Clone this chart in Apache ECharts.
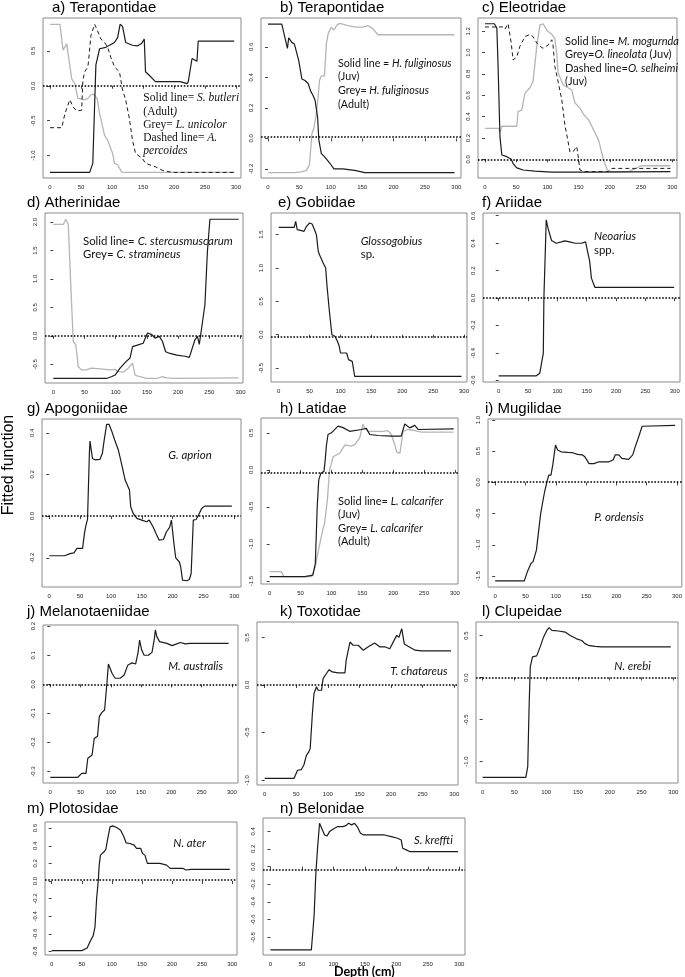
<!DOCTYPE html>
<html><head><meta charset="utf-8">
<script src="https://cdn.jsdelivr.net/npm/echarts@6/dist/echarts.min.js"></script>
<style>html,body{margin:0;padding:0;background:#fff}#c{width:685px;height:977px}</style>
</head><body><div id="c"></div>
<script>
// ---------------- DATA ----------------
const depthTicks = [0, 50, 100, 150, 200, 250, 300];

// a) Terapontidae
const a_grey_x = [0, 16, 21, 27, 35, 40, 45, 56, 61, 66, 70, 76, 80, 88, 93, 101, 104, 109, 116, 297];
const a_grey_y = [0.88, 0.88, 0.51, 0.6, 0.1, 0.03, -0.18, -0.2, -0.18, -0.13, -0.12, -0.18, -0.4, -0.71, -0.78, -0.97, -1.11, -1.13, -1.24, -1.24];
const a_dash_x = [0, 19, 24, 32, 37, 43, 51, 53, 56, 61, 62, 66, 72, 76, 82, 88, 93, 98, 104, 112, 117, 122, 128, 133, 138, 149, 154, 170, 181, 197, 297];
const a_dash_y = [-0.6, -0.6, -0.4, -0.2, -0.3, -0.36, -0.35, 0.08, 0.2, 0.27, 0.34, 0.72, 0.88, 0.8, 0.67, 0.62, 0.55, 0.41, 0.27, 0.2, -0.06, -0.2, -0.47, -0.78, -0.97, -1.04, -1.11, -1.16, -1.21, -1.24, -1.24];
const a_solid_x = [0, 64, 69, 74, 80, 90, 104, 109, 113, 117, 122, 133, 141, 148, 152, 154, 160, 170, 210, 221, 223, 229, 231, 237, 239, 297];
const a_solid_y = [-1.24, -1.24, -1.11, 0.3, 0.53, 0.55, 0.62, 0.69, 0.88, 0.85, 0.62, 0.58, 0.57, 0.61, 0.67, 0.2, 0.15, 0.06, 0.06, 0.03, 0.06, 0.39, 0.41, 0.35, 0.64, 0.64];
const a_yticks = [-1.0, -0.5, 0.0, 0.5];
const a_zero = 0;

// b) Terapontidae
const b_grey_x = [0, 42, 53, 61, 66, 70, 73, 77, 80, 82, 85, 90, 93, 96, 101, 105, 109, 114, 119, 127, 141, 151, 159, 167, 175, 297];
const b_grey_y = [-0.225, -0.225, -0.22, -0.21, -0.175, 0.03, 0.066, 0.16, 0.28, 0.38, 0.41, 0.41, 0.62, 0.69, 0.73, 0.71, 0.74, 0.755, 0.75, 0.74, 0.73, 0.73, 0.74, 0.72, 0.68, 0.68];
const b_solid_x = [0, 22, 31, 33, 38, 42, 45, 49, 54, 59, 64, 68, 72, 75, 79, 81, 85, 90, 98, 105, 119, 138, 149, 154, 297];
const b_solid_y = [0.75, 0.75, 0.59, 0.66, 0.63, 0.62, 0.63, 0.51, 0.39, 0.38, 0.36, 0.31, 0.28, 0.25, 0.14, -0.01, -0.1, -0.12, -0.16, -0.2, -0.2, -0.21, -0.22, -0.225, -0.225];
const b_yticks = [-0.2, 0.0, 0.2, 0.4, 0.6];
const b_zero = 0.007;

// c) Eleotridae
const c_grey_x = [0, 22, 24, 27, 51, 53, 59, 64, 72, 77, 83, 88, 93, 99, 107, 112, 115, 117, 125, 133, 139, 144, 152, 158, 166, 182, 190, 196, 203, 230, 240, 250, 297];
const c_grey_y = [0.29, 0.29, 0.25, 0.31, 0.31, 0.45, 0.46, 0.62, 0.67, 0.73, 1.06, 1.26, 1.27, 1.21, 1.17, 1.13, 0.99, 0.81, 0.7, 0.67, 0.65, 0.53, 0.48, 0.42, 0.37, 0.18, -0.01, -0.1, -0.115, -0.115, -0.09, -0.06, -0.06];
const c_dash_x = [0, 13, 29, 32, 37, 42, 45, 51, 56, 64, 72, 77, 83, 88, 93, 101, 107, 109, 112, 117, 123, 128, 133, 136, 141, 147, 150, 152, 160, 198, 203, 297];
const c_dash_y = [1.24, 1.24, 1.24, 1.22, 1.27, 1.09, 0.93, 0.96, 1.06, 1.15, 1.17, 1.15, 1.09, 1.06, 1.04, 1.07, 1.12, 1.07, 0.87, 0.73, 0.56, 0.32, 0.17, 0.07, 0.07, 0.12, 0.0, -0.1, -0.115, -0.115, -0.085, -0.085];
const c_solid_x = [0, 15, 19, 21, 24, 27, 35, 42, 45, 51, 61, 80, 107, 166, 297];
const c_solid_y = [1.27, 1.27, 1.23, 0.87, 0.21, 0.04, 0.025, 0.0, -0.04, -0.08, -0.1, -0.11, -0.12, -0.12, -0.115];
const c_yticks = [0.0, 0.2, 0.4, 0.6, 0.8, 1.0, 1.2];
const c_zero = 0;

// d) Atherinidae
const d_grey_x = [0, 16, 20, 24, 28, 32, 36, 40, 45, 53, 61, 75, 91, 99, 104, 112, 120, 127, 131, 139, 149, 166, 174, 182, 192, 297];
const d_grey_y = [1.96, 1.96, 2.05, 1.96, 0.9, -0.1, -0.16, -0.54, -0.6, -0.6, -0.57, -0.58, -0.6, -0.59, -0.63, -0.64, -0.57, -0.48, -0.69, -0.72, -0.75, -0.75, -0.72, -0.74, -0.75, -0.74];
const d_solid_x = [0, 85, 93, 99, 107, 117, 123, 127, 136, 144, 151, 158, 163, 170, 175, 180, 187, 198, 211, 218, 227, 231, 234, 238, 243, 247, 251, 297];
const d_solid_y = [-0.75, -0.75, -0.72, -0.69, -0.57, -0.45, -0.39, -0.19, -0.16, -0.13, 0.05, 0.02, -0.04, -0.01, -0.1, -0.28, -0.31, -0.34, -0.36, -0.38, -0.07, -0.01, -0.15, 0.16, 0.55, 1.49, 2.05, 2.05];
const d_yticks = [-0.5, 0.0, 0.5, 1.0, 1.5, 2.0];
const d_zero = 0;

// e) Gobiidae
const e_solid_x = [0, 25, 27.5, 30, 37, 41, 45, 50, 54, 58, 61, 64, 66, 72, 76, 78, 81.5, 86, 91, 95, 98, 100, 110, 113, 119, 123, 296];
const e_solid_y = [1.61, 1.61, 1.7, 1.575, 1.56, 1.55, 1.625, 1.675, 1.66, 1.575, 1.5, 1.25, 1.2, 1.075, 1.0, 0.75, 0.4, 0.0, -0.025, -0.1, -0.175, -0.275, -0.275, -0.375, -0.4, -0.625, -0.625];
const e_yticks = [-0.5, 0.0, 0.5, 1.0, 1.5];
const e_zero = -0.025;

// f) Ariidae
const f_solid_x = [0, 64, 70, 76, 77, 81, 84, 90, 98, 107, 112.5, 121, 130, 141, 148, 150, 155, 158, 161, 164, 299];
const f_solid_y = [-0.565, -0.565, -0.546, -0.4, 0, 0.57, 0.51, 0.42, 0.4, 0.41, 0.417, 0.41, 0.4, 0.4, 0.41, 0.408, 0.27, 0.146, 0.133, 0.078, 0.078];
const f_yticks = [-0.6, -0.4, -0.2, 0.0, 0.2, 0.4, 0.6];
const f_zero = 0;

// g) Apogoniidae
const g_solid_x = [0, 25, 33.5, 40, 45, 54, 57, 59, 62, 65, 66, 70, 74, 82, 86, 89, 93, 97, 101, 106, 112, 117, 123, 126, 130, 132, 136, 142, 150, 158, 162, 168, 173, 178, 185, 190, 195, 198, 202, 205, 211, 213, 216, 223, 227, 230, 233.5, 238, 242, 247, 252, 296];
const g_solid_y = [-0.19, -0.19, -0.18, -0.176, -0.155, -0.155, -0.083, -0.05, -0.016, 0.3, 0.36, 0.277, 0.27, 0.272, 0.3, 0.365, 0.44, 0.44, 0.41, 0.365, 0.317, 0.253, 0.173, 0.165, 0.125, 0.045, 0.013, -0.011, -0.019, -0.027, -0.019, -0.05, -0.083, -0.115, -0.112, -0.075, -0.054, -0.019, -0.13, -0.2, -0.22, -0.243, -0.307, -0.31, -0.304, -0.275, -0.019, -0.016, 0.005, 0.037, 0.048, 0.048];
const g_yticks = [-0.2, 0.0, 0.2, 0.4];
const g_zero = 0;

// h) Latidae
const h_grey_x = [0, 19, 23, 68, 74, 78, 86.5, 89, 93.5, 97, 103, 108, 113.5, 122, 132, 137.7, 145.8, 151, 154, 159, 170, 183.6, 191.7, 197, 202.6, 206, 211, 216, 224, 235, 245.7, 298];
const h_grey_y = [-1.374, -1.374, -1.44, -1.44, -1.306, -1.126, -0.79, -0.72, -0.405, 0.0, 0.18, 0.2, 0.225, 0.338, 0.32, 0.34, 0.43, 0.62, 0.567, 0.52, 0.52, 0.52, 0.53, 0.477, 0.34, 0.24, 0.225, 0.52, 0.545, 0.53, 0.51, 0.51];
const h_solid_x = [0, 57, 70, 74, 77, 79.5, 83, 88, 90, 91.8, 94.5, 100, 110.7, 118.8, 129.6, 148.5, 156.6, 162, 175.5, 197, 213, 218.8, 226.9, 235, 240.4, 298];
const h_solid_y = [-1.44, -1.44, -1.42, -1.26, -0.5, -0.135, -0.045, -0.02, 0.135, 0.32, 0.477, 0.5, 0.59, 0.57, 0.52, 0.545, 0.56, 0.477, 0.464, 0.455, 0.455, 0.62, 0.567, 0.6, 0.545, 0.554];
const h_yticks = [-1.5, -1.0, -0.5, 0.0, 0.5];
const h_zero = -0.036;

// i) Mugilidae
const i_solid_x = [0, 48, 53, 59, 62.5, 68, 70.7, 75, 77, 81.5, 86, 88.6, 92, 95, 99.5, 103, 108.7, 119.6, 127.7, 135.9, 144, 148, 155, 163, 171, 187.5, 194.6, 198, 204, 209, 220, 227, 231, 235, 242.5, 244, 297];
const i_solid_y = [-1.578, -1.578, -1.433, -1.3, -1.27, -1.086, -1.06, -0.5, -0.39, -0.15, 0.037, 0.118, 0.118, 0.28, 0.6, 0.52, 0.49, 0.48, 0.476, 0.45, 0.44, 0.41, 0.3, 0.3, 0.33, 0.33, 0.36, 0.44, 0.44, 0.385, 0.37, 0.44, 0.57, 0.68, 0.9, 0.915, 0.915];
const i_yticks = [-1.5, -1.0, -0.5, 0.0, 0.5, 1.0];
const i_zero = 0.01;

// j) Melanotaeniidae
const j_solid_x = [0, 45, 52, 59, 62, 69, 72.6, 78, 81, 85, 89.7, 93.5, 96, 102, 107, 115.6, 122, 128, 135, 141, 145, 147.5, 151, 155, 162, 168, 172, 173.5, 176, 180.5, 192.6, 201, 209, 214.6, 223, 231, 294.5];
const j_solid_y = [-0.32, -0.32, -0.306, -0.306, -0.254, -0.243, -0.186, -0.178, -0.111, -0.097, -0.088, 0.003, 0.07, 0.038, 0.021, 0.021, 0.032, 0.066, 0.074, 0.07, 0.11, 0.152, 0.118, 0.1, 0.1, 0.11, 0.158, 0.187, 0.164, 0.147, 0.141, 0.133, 0.139, 0.144, 0.139, 0.141, 0.141];
const j_yticks = [-0.3, -0.2, -0.1, 0.0, 0.1, 0.2];
const j_zero = 0;

// k) Toxotidae
const k_solid_x = [0, 46.5, 52, 58, 62, 66, 70, 72, 75.5, 78, 82, 84.5, 90, 92.4, 97.7, 102, 107, 116, 127, 129, 135, 140, 148, 156, 164, 174, 182, 190, 198, 205, 209, 212.6, 216.9, 221, 227, 238, 248, 295];
const k_solid_y = [-0.98, -0.98, -0.895, -0.888, -0.84, -0.74, -0.7, -0.668, -0.3, -0.09, -0.02, -0.056, -0.056, 0.066, 0.12, 0.16, 0.136, 0.126, 0.126, 0.26, 0.45, 0.416, 0.416, 0.364, 0.4, 0.44, 0.4, 0.4, 0.38, 0.47, 0.52, 0.5, 0.59, 0.43, 0.406, 0.364, 0.357, 0.357];
const k_yticks = [-1.0, -0.5, 0.0, 0.5];
const k_zero = 0;

// l) Clupeidae
const l_solid_x = [0, 68, 71, 73, 75, 78.5, 85, 90.6, 95.8, 101, 104.7, 109, 119.4, 130, 137.7, 148, 156, 161, 166.5, 177, 187, 296];
const l_solid_y = [-1.186, -1.186, -1.06, -0.39, 0.126, 0.245, 0.257, 0.364, 0.48, 0.56, 0.593, 0.56, 0.553, 0.54, 0.5, 0.46, 0.44, 0.403, 0.383, 0.37, 0.364, 0.364];
const l_yticks = [-1.0, -0.5, 0.0, 0.5];
const l_zero = 0;

// m) Plotosidae
const m_solid_x = [0, 50, 59, 63.6, 69, 72, 74.7, 77.5, 79, 81, 87, 90, 92.7, 97, 101.5, 108, 114.6, 120, 123.6, 130, 137, 141, 148, 151, 155, 159, 180, 191, 197, 218.6, 223, 232, 296];
const m_solid_y = [-0.79, -0.79, -0.76, -0.69, -0.62, -0.52, -0.2, 0.01, 0.18, 0.294, 0.332, 0.358, 0.464, 0.615, 0.626, 0.607, 0.577, 0.502, 0.434, 0.426, 0.408, 0.37, 0.37, 0.313, 0.294, 0.2, 0.2, 0.181, 0.143, 0.143, 0.125, 0.132, 0.132];
const m_yticks = [-0.8, -0.6, -0.4, -0.2, 0.0, 0.2, 0.4, 0.6];
const m_zero = 0.011;

// n) Belonidae
const n_solid_x = [0, 65, 69.4, 72, 75, 78, 80.5, 86, 90, 93.8, 101.7, 107, 115, 120, 124, 129, 133.5, 137.8, 143, 148, 181, 192, 202, 207.7, 210, 215.7, 221, 298];
const n_solid_y = [-0.943, -0.943, -0.55, -0.094, 0.226, 0.49, 0.472, 0.358, 0.347, 0.396, 0.434, 0.453, 0.453, 0.464, 0.49, 0.472, 0.49, 0.453, 0.377, 0.358, 0.358, 0.34, 0.321, 0.302, 0.208, 0.189, 0.17, 0.17];
const n_yticks = [-0.8, -0.6, -0.4, -0.2, 0.0, 0.2, 0.4];
const n_zero = -0.03;

// ---------------- LAYOUT ----------------
const STY = {
  solid: {color: '#1c1c1c', width: 1.2, type: 'solid'},
  grey: {color: '#b5b5b5', width: 1.3, type: 'solid'},
  dashed: {color: '#1c1c1c', width: 1, type: [4, 3]}
};
const panels = [
  {title: 'a) Terapontidae', tp: [52, 0], box: [43, 18, 241, 178], xr: [-11.3, 308], yr: [-1.32, 0.97], yt: a_yticks, zero: a_zero,
   s: [[a_grey_x, a_grey_y, 'grey'], [a_dash_x, a_dash_y, 'dashed'], [a_solid_x, a_solid_y, 'solid']]},
  {title: 'b) Terapontidae', tp: [280, 0], box: [261, 18, 461, 178], xr: [-11.1, 307.4], yr: [-0.26, 0.79], yt: b_yticks, zero: b_zero,
   s: [[b_grey_x, b_grey_y, 'grey'], [b_solid_x, b_solid_y, 'solid']]},
  {title: 'c) Eleotridae', tp: [482, 0], box: [478, 18, 677, 178], xr: [-11.2, 307.6], yr: [-0.175, 1.324], yt: c_yticks, zero: c_zero,
   s: [[c_grey_x, c_grey_y, 'grey'], [c_dash_x, c_dash_y, 'dashed'], [c_solid_x, c_solid_y, 'solid']]},
  {title: 'd) Atherinidae', tp: [27, 195], box: [45, 213, 243, 383], xr: [-13.3, 304], yr: [-0.83, 2.16], yt: d_yticks, zero: d_zero,
   s: [[d_grey_x, d_grey_y, 'grey'], [d_solid_x, d_solid_y, 'solid']]},
  {title: 'e) Gobiidae', tp: [278, 195], box: [271, 213, 467, 382], xr: [-12.5, 304.8], yr: [-0.71, 1.825], yt: e_yticks, zero: e_zero,
   s: [[e_solid_x, e_solid_y, 'solid']]},
  {title: 'f) Ariidae', tp: [482, 195], box: [483, 213, 680, 382], xr: [-26.8, 309], yr: [-0.61, 0.62], yt: f_yticks, zero: f_zero,
   s: [[f_solid_x, f_solid_y, 'solid']]},
  {title: 'g) Apogoniidae', tp: [27, 401], box: [42, 419, 241, 587], xr: [-11.8, 310.8], yr: [-0.34, 0.466], yt: g_yticks, zero: g_zero,
   s: [[g_solid_x, g_solid_y, 'solid']]},
  {title: 'h) Latidae', tp: [280, 401], box: [261, 418, 458, 584], xr: [-14, 305], yr: [-1.54, 0.70], yt: h_yticks, zero: h_zero,
   s: [[h_grey_x, h_grey_y, 'grey'], [h_solid_x, h_solid_y, 'solid']]},
  {title: 'i) Mugilidae', tp: [485, 401], box: [488, 419, 684, 587], xr: [-11.9, 308], yr: [-1.676, 1.016], yt: i_yticks, zero: i_zero,
   s: [[i_solid_x, i_solid_y, 'solid']]},
  {title: 'j) Melanotaeniidae', tp: [27, 604.5], box: [43, 625, 238, 783], xr: [-12, 310], yr: [-0.339, 0.204], yt: j_yticks, zero: j_zero,
   s: [[j_solid_x, j_solid_y, 'solid']]},
  {title: 'k) Toxotidae', tp: [280, 604.5], box: [257, 622, 458, 785], xr: [-12.2, 306], yr: [-1.05, 0.66], yt: k_yticks, zero: k_zero,
   s: [[k_solid_x, k_solid_y, 'solid']]},
  {title: 'l) Clupeidae', tp: [482, 604.5], box: [476, 622, 678, 783], xr: [-10.4, 307.4], yr: [-1.254, 0.66], yt: l_yticks, zero: l_zero,
   s: [[l_solid_x, l_solid_y, 'solid']]},
  {title: 'm) Plotosidae', tp: [27, 801.5], box: [45, 822, 237, 955], xr: [-11.1, 308], yr: [-0.84, 0.67], yt: m_yticks, zero: m_zero,
   s: [[m_solid_x, m_solid_y, 'solid']]},
  {title: 'n) Belonidae', tp: [280, 801.5], box: [263, 818, 465, 955], xr: [-11.8, 309], yr: [-1.0, 0.55], yt: n_yticks, zero: n_zero,
   s: [[n_solid_x, n_solid_y, 'solid']]}
];

// legend / annotation texts
const SANS = 'Lato';
const FS = 11;
function rt(family, size, lh) {
  return {
    i: {fontFamily: family, fontSize: size, fontStyle: 'italic', fill: '#111', lineHeight: lh},
    n: {fontFamily: family, fontSize: size, fontStyle: 'normal', fill: '#111', lineHeight: lh}
  };
}
const notes = [
  {pos: [143.3, 91.7], fam: 'Liberation Serif', size: 11.5, lh: 13.2,
   text: '{n|Solid line= }{i|S. butleri}\n{n|(Adult}{i|)}\n{n|Grey= }{i|L. unicolor}\n{n|Dashed line= }{i|A.}\n{i|percoides}'},
  {pos: [338, 56.5], fam: SANS, size: 10.7, lh: 13.6,
   text: '{n|Solid line = }{i|H. fuliginosus}\n{n|(Juv)}\n{n|Grey= }{i|H. fuliginosus}\n{n|(Adult)}'},
  {pos: [565, 35], fam: SANS, size: FS, lh: 13.3,
   text: '{n|Solid line= }{i|M. mogurnda}\n{n|Grey=}{i|O. lineolata}{n| (Juv)}\n{n|Dashed line=}{i|O. selheimi}\n{n|(Juv)}'},
  {pos: [83, 235], fam: SANS, size: 11.4, lh: 12.7,
   text: '{n|Solid line= }{i|C. stercusmuscarum}\n{n|Grey= }{i|C. stramineus}'},
  {pos: [360.7, 235], fam: SANS, size: 11.4, lh: 12.7, text: '{i|Glossogobius}\n{n|sp.}'},
  {pos: [594, 229], fam: SANS, size: 11.4, lh: 14.4, text: '{i|Neoarius}\n{n|spp.}'},
  {pos: [168.3, 448.3], fam: SANS, size: 11.4, lh: 13.3, text: '{i|G. aprion}'},
  {pos: [338, 495], fam: SANS, size: FS, lh: 13.3,
   text: '{n|Solid line= }{i|L. calcarifer}\n{n|(Juv)}\n{n|Grey= }{i|L. calcarifer}\n{n|(Adult)}'},
  {pos: [594.3, 510.6], fam: SANS, size: 11.4, lh: 13.3, text: '{i|P. ordensis}'},
  {pos: [168.3, 659.3], fam: SANS, size: 11.4, lh: 13.3, text: '{i|M. australis}'},
  {pos: [390.3, 665], fam: SANS, size: 11.4, lh: 13.3, text: '{i|T. chatareus}'},
  {pos: [614.3, 660], fam: SANS, size: 11.4, lh: 13.3, text: '{i|N. erebi}'},
  {pos: [173.3, 836.6], fam: SANS, size: 11.4, lh: 13.3, text: '{i|N. ater}'},
  {pos: [414, 833.3], fam: SANS, size: 11.4, lh: 13.3, text: '{i|S. kreffti}'}
];

// ---------------- BUILD ----------------
const grid = [], xAxis = [], yAxis = [], series = [], graphic = [];
panels.forEach((p, k) => {
  const [L, T, R, B] = p.box;
  grid.push({left: L, top: T, width: R - L, height: B - T, show: true, borderColor: '#8a8a8a', borderWidth: 1, backgroundColor: 'transparent'});
  xAxis.push({
    gridIndex: k, type: 'value', min: p.xr[0], max: p.xr[1],
    axisLine: {show: false}, splitLine: {show: false},
    axisTick: {show: true, customValues: depthTicks, length: 3, lineStyle: {color: '#444', width: 1}},
    axisLabel: {customValues: depthTicks, fontSize: 6, margin: 6, color: '#222', fontFamily: 'Liberation Sans', formatter: v => String(v)}
  });
  yAxis.push({
    gridIndex: k, type: 'value', min: p.yr[0], max: p.yr[1],
    axisLine: {show: false}, splitLine: {show: false},
    axisTick: {show: true, customValues: p.yt, length: 3, lineStyle: {color: '#444', width: 1}},
    axisLabel: {customValues: p.yt, fontSize: 6, margin: 7, rotate: 90, color: '#222', fontFamily: 'Liberation Sans', formatter: v => v.toFixed(1)}
  });
  p.s.forEach((s, j) => {
    const st = STY[s[2]];
    const ser = {
      type: 'line', xAxisIndex: k, yAxisIndex: k, showSymbol: false, symbol: 'none',
      animation: false, silent: true, z: 2 + j,
      data: s[0].map((x, i) => [x, s[1][i]]),
      lineStyle: {color: st.color, width: st.width, type: st.type}
    };
    if (j === 0) {
      ser.markLine = {
        silent: true, symbol: ['none', 'none'], animation: false,
        label: {show: false},
        lineStyle: {type: [1.6, 1.6], color: '#000', width: 1.7},
        data: [{yAxis: p.zero}]
      };
    }
    series.push(ser);
  });
  graphic.push({
    type: 'text', left: p.tp[0], top: p.tp[1], silent: true,
    style: {text: p.title, fontFamily: 'Liberation Sans', fontSize: 15, fill: '#000'}
  });
});
notes.forEach(nt => {
  graphic.push({
    type: 'text', left: nt.pos[0], top: nt.pos[1], silent: true, z: 50,
    style: {text: nt.text, fontFamily: nt.fam, fontSize: nt.size, lineHeight: nt.lh, fill: '#111', rich: rt(nt.fam, nt.size, nt.lh)}
  });
});
graphic.push({
  type: 'text', x: 9, y: 465, rotation: Math.PI / 2, silent: true,
  style: {text: 'Fitted function', fontFamily: 'Liberation Sans', fontSize: 16, fill: '#000',
          align: 'center', verticalAlign: 'middle', textAlign: 'center', textVerticalAlign: 'middle'}
});
graphic.push({
  type: 'text', left: 334, top: 965, silent: true,
  style: {text: 'Depth (cm)', fontFamily: 'Lato', fontWeight: 'bold', fontSize: 12.5, fill: '#000'}
});

const chart = echarts.init(document.getElementById('c'), null, {renderer: 'canvas'});
chart.setOption({backgroundColor: '#fff', animation: false, grid, xAxis, yAxis, series, graphic});
</script>
</body></html>
